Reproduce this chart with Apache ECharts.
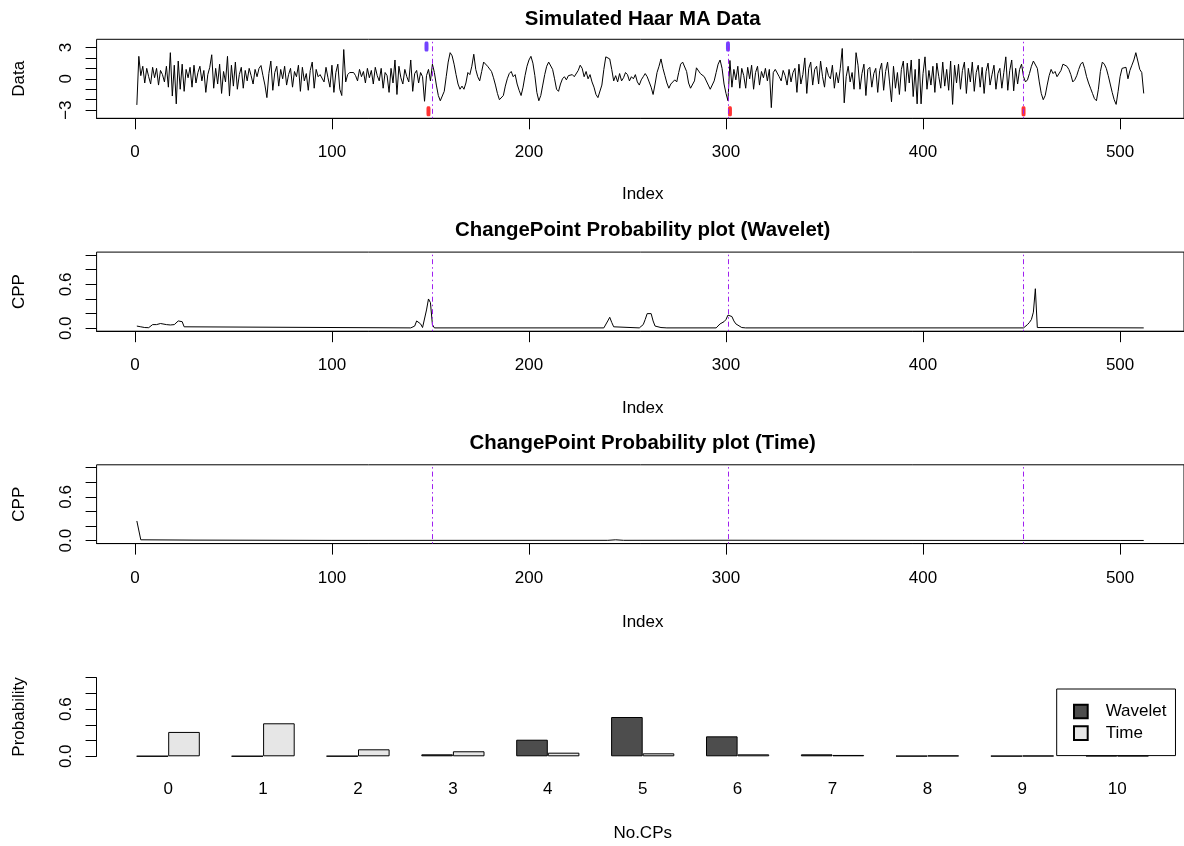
<!DOCTYPE html>
<html>
<head>
<meta charset="utf-8">
<script src="https://cdn.jsdelivr.net/npm/echarts@6/dist/echarts.min.js"></script>
<style>html,body{margin:0;padding:0;background:#fff}#c{width:1184px;height:846px}</style>
</head>
<body>
<div id="c"></div>
<script>
// ---------- data ----------
const indexTicks = [0, 100, 200, 300, 400, 500];
const dataTicks = [-3, -2, -1, 0, 1, 2, 3];
const dataTickLabels = [-3, 0, 3];
const probTicks = [0, 0.2, 0.4, 0.6, 0.8, 1.0];
const probTickLabels = [0, 0.6];

const dataValues = [
 -2.5, 2.15, 0.3, 1.2, -0.4, 1.0, 0.2, -0.5, 1.1, 0.1,
 1.0, -0.6, 0.8, 0.4, -0.3, 1.2, -0.8, 2.5, -1.65, 1.3,
 -2.4, 1.7, -1.0, 1.4, -1.2, 0.9, 0.1, 1.1, -0.8, 1.3,
 -0.4, 0.6, 1.2, -0.2, 0.8, -1.3, 0.4, 1.1, 2.3, -0.9,
 1.0, -0.5, 1.4, -1.4, 0.7, -0.3, 2.15, -1.65, 1.3, -0.7,
 1.6, -1.0, 0.4, 1.1, -0.9, 0.8, -0.2, 1.0, 0.3, -0.5,
 0.9, 0.2, 1.0, 1.27, 0.3, -0.6, -1.8, 0.5, 1.7, -1.1,
 0.6, 1.2, -0.7, 0.9, 0.0, 1.2, -0.6, 0.4, 1.0, -0.8,
 0.7, 0.2, 1.3, -1.2, 1.1, -0.2, 0.5, -1.1, 0.8, 1.6,
 -0.9, 0.9, 0.2, 0.4, 0.5, -0.3, 1.1, 0.1, -0.8, 1.3,
 -1.3, 0.6, 1.4, -1.0, -1.6, 2.8, -0.3, 0.4, 0.6, 0.55,
 0.6, 0.3, -0.2, 0.9, 0.2, 0.7, -0.4, 1.0, 0.1, 0.8,
 -0.5, 1.1, 0.3, -0.2, 1.0, -0.9, 0.6, 0.3, -1.3, 1.0,
 -0.4, 1.8, -1.5, 1.2, 0.1, -0.5, 0.9, 0.2, -0.3, 1.8,
 -1.2, 0.5, 0.8, -0.4, 0.6, 0.2, -2.15, 0.3, 0.9, -0.2,
 1.4, 0.6, -0.6, -1.6, -2.1, -2.0, -1.2, 0.2, 1.6, 2.5,
 2.2, 1.4, 0.4, -0.5, -1.0, -0.7, -1.0, -0.4, 0.6, 0.4,
 1.2, 2.35, 0.9, 0.2, -0.2, 0.7, 1.6, 1.5, 1.2, 1.1,
 0.7, 0.1, -0.6, -1.4, -2.0, -2.1, -1.6, -0.7, 0.0, 0.5,
 0.7, 0.2, 0.4, -0.5, -1.1, -1.6, -0.8, 0.3, 1.2, 1.8,
 2.15, 1.5, 0.3, -1.3, -2.1, -1.6, -0.6, 0.4, 1.2, 1.6,
 1.5, 0.9, 0.0, -1.0, -1.2, -0.5, 0.0, 0.2, -0.1, 0.3,
 0.2, 0.4, 0.2, 0.3, 0.8, 1.3, 1.0, 0.2, 0.7, 0.0,
 0.4, -0.3, -0.8, -1.5, -1.8, -1.7, -0.6, 0.9, 2.1, 2.0,
 1.9, 0.9, -0.2, 0.3, -0.3, 0.5, -0.2, 0.1, 0.6, 0.4,
 -0.2, 0.2, 0.0, 0.4, -0.3, -0.6, -0.1, 0.2, 0.5, 0.2,
 -0.3, -0.8, -1.5, -0.5, 0.6, 1.2, 1.9, 1.0, 0.3, -0.4,
 -0.9, -0.5, -0.6, -0.1, -0.3, 0.6, 1.4, 1.6, 1.5, 0.7,
 -0.4, -0.9, -1.0, -0.2, 1.05, 0.9, 0.5, 0.4, 0.2, 0.1,
 -0.6, -1.0, -0.9, -0.2, 0.6, 1.4, 1.8, 1.0, -0.5, -1.4,
 -2.1, 1.75, -0.8, 0.9, -0.1, 1.2, -0.9, 1.0, 0.3, -0.9,
 1.1, 0.0, 1.3, -1.0, 0.6, 1.2, -0.6, 0.7, 0.1, 1.0,
 -0.2, 0.9, -2.76, 0.6, 0.9, 1.0, 0.2, -0.2, 0.8, 0.3,
 -0.6, 0.9, -0.3, 0.6, 1.0, -1.3, 1.4, -0.5, 0.4, 2.0,
 -1.4, 1.0, 1.6, -0.6, 0.9, 1.2, -0.5, 1.7, 0.2, -0.8,
 1.1, 0.3, 0.0, 1.3, -0.9, 0.6, -0.4, 1.0, 2.9, -2.3,
 0.2, 1.2, -0.3, 0.6, -1.0, 2.5, 1.3, -1.0, 0.5, 1.4,
 -1.6, 0.9, 1.1, -0.8, 0.5, 1.0, -1.3, 0.8, 1.5, -1.1,
 0.7, 1.6, -0.3, -2.2, 1.2, -0.9, 0.6, -1.5, 0.9, 1.7,
 -1.2, 1.5, -0.4, 1.8, -1.7, 0.9, -2.4, 1.9, -2.4, 0.5,
 2.1, -1.0, 0.8, -0.6, 1.2, -1.3, 1.5, 0.2, -0.9, 1.6,
 -0.7, 0.9, -1.1, 1.7, -2.45, 1.3, -0.4, 1.4, -1.0, 0.8,
 1.6, -1.4, 1.0, -0.3, 1.6, -1.2, 0.6, 1.3, -0.8, 1.1,
 -1.4, 0.7, 1.5, -0.6, 0.4, 1.3, -1.0, 0.5, 1.0, -0.9,
 0.6, 2.1, -1.1, 0.8, 1.8, -1.15, 1.0, -0.5, 0.9, 1.4,
 0.2, -0.3, -0.1, 0.5, 1.2, 1.7, 1.7, 1.0, -0.3, -1.4,
 -2.0, -1.6, -0.6, 0.3, 0.9, 0.5, 0.7, 0.2, 0.1, 0.8,
 1.4, 1.3, 1.2, 0.9, 0.4, -0.3, -0.1, 0.3, 0.9, 1.4,
 1.6, 1.0, 0.2, -0.4, -0.9, -1.4, -1.9, -2.1, -1.0, 0.7,
 1.6, 1.4, 1.0, 0.3, -0.5, -1.3, -2.0, -2.45, -1.2, 0.2,
 1.0, 0.9, 1.1, 0.0, 0.8, 1.3, 1.8, 2.5, 1.7, 0.9,
 0.6, -1.4
];

const changePoints = [151, 301, 451];
const blueMarks = [148, 301];
const redMarks = [149, 302, 451];
const markLevel = 3.1;

// change point probability curves: [index, probability] at the vertices of the drawn line
const cppWavelet = [
 [1,0.03],[3,0.02],[5,0.01],[7,0.008],[8,0.01],[9,0.05],[10,0.04],[11,0.05],[12,0.07],[13,0.065],
 [14,0.055],[16,0.05],[18,0.045],[20,0.05],[21,0.06],[22,0.1],[23,0.125],[24,0.09],[25,0.02],[26,0.005],
 [140,0.005],[142,0.03],[143,0.1],[144,0.12],[145,0.06],[146,0.01],[147,0.02],[148,0.25],[149,0.4],[150,0.35],
 [151,0.05],[152,0.005],[238,0.005],[239,0.03],[240,0.1],[241,0.15],[242,0.08],[243,0.02],[244,0.005],
 [256,0.005],[257,0.02],[258,0.05],[259,0.12],[260,0.2],[261,0.225],[262,0.2],[263,0.1],[264,0.03],[265,0.02],
 [267,0.01],[270,0.005],[295,0.005],[296,0.02],[297,0.06],[298,0.08],[299,0.09],[300,0.12],[301,0.18],[302,0.195],
 [303,0.16],[304,0.1],[305,0.06],[306,0.04],[308,0.01],[310,0.005],[451,0.005],[452,0.02],[453,0.05],[454,0.08],
 [455,0.12],[456,0.22],[457,0.54],[458,0.01],[459,0.005],[512,0.005]
];
const cppTime = [
 [1,0.27],[3,0.012],[30,0.008],[100,0.004],[240,0.005],[244,0.012],[248,0.005],[300,0.006],[400,0.004],[500,0.003],[512,0.003]
];

const noCPs = ['0','1','2','3','4','5','6','7','8','9','10'];
const probWavelet = [0.002, 0.002, 0.003, 0.025, 0.211, 0.5, 0.254, 0.025, 0.005, 0.005, 0.01];
const probTime = [0.31, 0.42, 0.089, 0.064, 0.046, 0.038, 0.025, 0.017, 0.01, 0.008, 0.01];

// ---------- chart ----------
const FONT = 'Liberation Sans, Arial, sans-serif';
const FS = 17;
const X0 = 96.58, XW = 1090.7;
const PURPLE = '#A020F0';
const panels = [
  {top: 39.3, height: 79.0},
  {top: 252.1, height: 79.1},
  {top: 464.8, height: 78.8}
];

const txt = (x, y, s, opts) => Object.assign({
  type: 'text', x: x, y: y,
  style: {text: s, fill: '#000', font: (opts && opts.bold ? 'bold ' : '') + ((opts && opts.size) || FS) + 'px ' + FONT,
          align: 'center', verticalAlign: 'middle'}
}, opts && opts.rot ? {rotation: Math.PI / 2} : {});

const grids = panels.map(p => ({left: X0, width: XW, top: p.top, height: p.height, show: true,
  borderColor: '#000', borderWidth: 1, backgroundColor: 'transparent', containLabel: false}));
grids.push({left: 120.75, width: 1043.9, top: 677.7, height: 78.6, show: false, containLabel: false});

const baseAxisLabel = {color: '#000', fontFamily: FONT, fontSize: FS, lineHeight: FS};

const xAxes = panels.map((p, i) => ({
  type: 'value', gridIndex: i, min: -19.44, max: 532.44,
  axisLine: {show: true, onZero: false, lineStyle: {color: '#000', width: 1}},
  axisTick: {show: true, length: 11, lineStyle: {color: '#000'}, customValues: indexTicks},
  axisLabel: Object.assign({}, baseAxisLabel, {margin: 26, customValues: indexTicks}),
  splitLine: {show: false}
}));
xAxes.push({
  type: 'category', gridIndex: 3, data: noCPs, boundaryGap: true,
  axisLine: {show: false, onZero: false}, axisTick: {show: false},
  axisLabel: Object.assign({}, baseAxisLabel, {margin: 25, interval: 0}),
  splitLine: {show: false}
});

const yProb = (gi, extra) => Object.assign({
  type: 'value', gridIndex: gi, min: -0.04, max: 1.04,
  axisLine: {show: false, onZero: false},
  axisTick: {show: true, length: 11, lineStyle: {color: '#000'}, customValues: probTicks},
  axisLabel: Object.assign({}, baseAxisLabel, {margin: 22, rotate: 90, customValues: probTickLabels,
    formatter: v => Number(v).toFixed(1)}),
  splitLine: {show: false}
}, extra || {});

const yAxes = [
  {
    type: 'value', gridIndex: 0, min: -3.78, max: 3.78,
    axisLine: {show: false, onZero: false},
    axisTick: {show: true, length: 11, lineStyle: {color: '#000'}, customValues: dataTicks},
    axisLabel: Object.assign({}, baseAxisLabel, {margin: 22, rotate: 90, customValues: dataTickLabels,
      formatter: v => (v < 0 ? '\u2212' + Math.abs(v) : String(v))}),
    splitLine: {show: false}
  },
  yProb(1),
  yProb(2),
  yProb(3, {min: 0, max: 1, offset: 24.2,
    axisLine: {show: true, onZero: false, lineStyle: {color: '#000', width: 1}}})
];

const cpMarkLine = {
  silent: true, symbol: ['none', 'none'], label: {show: false},
  lineStyle: {color: PURPLE, width: 1, type: [1.5, 3, 5, 3]},
  data: changePoints.map(v => ({xAxis: v}))
};

const series = [
  {
    name: 'Data', type: 'line', xAxisIndex: 0, yAxisIndex: 0, showSymbol: false, silent: true,
    data: dataValues.map((v, i) => [i + 1, v]),
    lineStyle: {color: '#000', width: 1}, itemStyle: {color: '#000'},
    markLine: cpMarkLine, z: 2
  },
  {
    name: 'blue', type: 'scatter', xAxisIndex: 0, yAxisIndex: 0, silent: true,
    symbol: 'roundRect', symbolSize: [4, 10],
    itemStyle: {color: '#4f14ff'},
    data: blueMarks.map(v => [v, markLevel]), z: 3
  },
  {
    name: 'red', type: 'scatter', xAxisIndex: 0, yAxisIndex: 0, silent: true,
    symbol: 'roundRect', symbolSize: [4, 10],
    itemStyle: {color: '#ff0000'},
    data: redMarks.map(v => [v, -markLevel]), z: 3
  },
  {
    name: 'CPP Wavelet', type: 'line', xAxisIndex: 1, yAxisIndex: 1, showSymbol: false, silent: true,
    data: cppWavelet, lineStyle: {color: '#000', width: 1}, itemStyle: {color: '#000'},
    markLine: cpMarkLine
  },
  {
    name: 'CPP Time', type: 'line', xAxisIndex: 2, yAxisIndex: 2, showSymbol: false, silent: true,
    data: cppTime, lineStyle: {color: '#000', width: 1}, itemStyle: {color: '#000'},
    markLine: cpMarkLine
  },
  {
    name: 'Wavelet', type: 'bar', xAxisIndex: 3, yAxisIndex: 3, barWidth: 31.6, barGap: '0%',
    data: probWavelet, itemStyle: {color: '#4d4d4d', borderColor: '#000', borderWidth: 1}, silent: true
  },
  {
    name: 'Time', type: 'bar', xAxisIndex: 3, yAxisIndex: 3, barWidth: 31.6, barGap: '0%',
    data: probTime, itemStyle: {color: '#e6e6e6', borderColor: '#000', borderWidth: 1}, silent: true
  }
];

const graphics = [
  txt(642.7, 19, 'Simulated Haar MA Data', {bold: true, size: 20.4}),
  txt(642.7, 230, 'ChangePoint Probability plot (Wavelet)', {bold: true, size: 20.4}),
  txt(642.7, 443, 'ChangePoint Probability plot (Time)', {bold: true, size: 20.4}),
  txt(642.7, 194, 'Index'),
  txt(642.7, 408, 'Index'),
  txt(642.7, 622, 'Index'),
  txt(642.7, 833, 'No.CPs'),
  txt(19, 78.8, 'Data', {rot: true}),
  txt(19, 291.6, 'CPP', {rot: true}),
  txt(19, 504.2, 'CPP', {rot: true}),
  txt(19, 717, 'Probability', {rot: true})
];

const chart = echarts.init(document.getElementById('c'), null, {renderer: 'canvas'});
chart.setOption({
  animation: false,
  backgroundColor: '#fff',
  grid: grids,
  xAxis: xAxes,
  yAxis: yAxes,
  legend: {
    data: ['Wavelet', 'Time'], orient: 'vertical', left: 1056.7, top: 689,
    icon: 'rect', itemWidth: 13.7, itemHeight: 13.7, itemGap: 4.6,
    padding: [14, 9, 14, 16.3], borderColor: '#000', borderWidth: 1, borderRadius: 0,
    backgroundColor: '#fff', selectedMode: false,
    textStyle: {color: '#000', fontFamily: FONT, fontSize: FS, lineHeight: FS, padding: [0, 0, 0, 13]}
  },
  graphic: graphics,
  series: series
});
</script>
</body>
</html>
